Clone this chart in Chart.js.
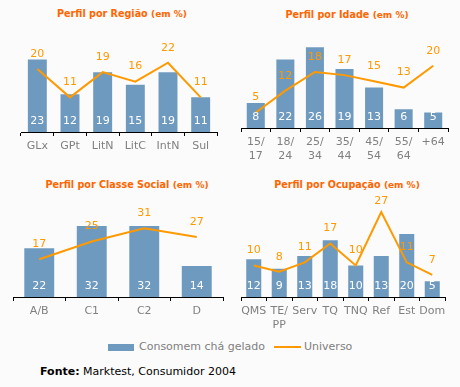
<!DOCTYPE html>
<html>
<head>
<meta charset="utf-8">
<script src="https://cdn.jsdelivr.net/npm/chart.js@4.4.0/dist/chart.umd.min.js"></script>
<style>
  html, body { margin: 0; padding: 0; background: #fbfbfb; }
  #wrap { position: relative; width: 460px; height: 387px; overflow: hidden; font-family: "DejaVu Sans", Verdana, sans-serif; }
  canvas { position: absolute; }
  .title { position: absolute; width: 230px; text-align: center; color: #ff6600; font-weight: bold; font-size: 9.6px; line-height: 12px; white-space: nowrap; }
  .title small { font-size: 9px; }
  #legend { position: absolute; left: 0; top: 340px; width: 460px; height: 14px; font-size: 11px; color: #808080; line-height: 14px; }
  #legend .sw { position: absolute; }
  #legend span.t { position: absolute; white-space: nowrap; }
  #fonte { position: absolute; left: 40px; top: 365px; font-size: 11px; line-height: 14px; color: #000; white-space: nowrap; }
</style>
</head>
<body>
<div id="wrap">
  <div class="title" style="left:7px;top:8px;">Perfil por Região <small>(em %)</small></div>
  <div class="title" style="left:232px;top:9px;">Perfil por Idade <small>(em %)</small></div>
  <div class="title" style="left:12px;top:179px;">Perfil por Classe Social <small>(em %)</small></div>
  <div class="title" style="left:232px;top:179px;">Perfil por Ocupação <small>(em %)</small></div>

  <canvas id="c1" width="230" height="170" style="left:0;top:0;"></canvas>
  <canvas id="c2" width="230" height="170" style="left:230px;top:0;"></canvas>
  <canvas id="c3" width="230" height="160" style="left:0;top:170px;"></canvas>
  <canvas id="c4" width="230" height="160" style="left:230px;top:170px;"></canvas>

  <div id="legend">
    <div class="sw" style="left:108px;top:4px;width:26px;height:7px;background:#6f9abf;"></div>
    <span class="t" style="left:139px;top:0;">Consomem chá gelado</span>
    <div class="sw" style="left:274px;top:6px;width:27px;height:2px;background:#ff9900;"></div>
    <span class="t" style="left:304px;top:0;">Universo</span>
  </div>
  <div id="fonte"><b>Fonte:</b> Marktest, Consumidor 2004</div>
</div>

<script>
// ---- Data ----
const regiaoLabels = ["GLx", "GPt", "LitN", "LitC", "IntN", "Sul"];
const regiaoConsomem = [23, 12, 19, 15, 19, 11];
const regiaoUniverso = [20, 11, 19, 16, 22, 11];

const idadeLabels = [["15/", "17"], ["18/", "24"], ["25/", "34"], ["35/", "44"], ["45/", "54"], ["55/", "64"], "+64"];
const idadeConsomem = [8, 22, 26, 19, 13, 6, 5];
const idadeUniverso = [5, 12, 18, 17, 15, 13, 20];

const classeLabels = ["A/B", "C1", "C2", "D"];
const classeConsomem = [22, 32, 32, 14];
const classeUniverso = [17, 25, 31, 27];

const ocupLabels = ["QMS", ["TE/", "PP"], "Serv", "TQ", "TNQ", "Ref", "Est", "Dom"];
const ocupConsomem = [12, 9, 13, 18, 10, 13, 20, 5];
const ocupUniverso = [10, 8, 11, 17, 10, 27, 11, 7];

const legendNames = ["Consomem chá gelado", "Universo"];

// ---- Styling ----
const BAR = "#6f9abf";
const LINE = "#ff9900";
const FONT = "DejaVu Sans";

const labelPlugin = {
  id: "valueLabels",
  afterDatasetsDraw(chart) {
    const ctx = chart.ctx;
    const y0 = chart.scales.y.getPixelForValue(0);
    ctx.save();
    ctx.font = "11px '" + FONT + "'";
    ctx.textAlign = "center";
    ctx.textBaseline = "middle";
    const barMeta = chart.getDatasetMeta(0);
    const barData = chart.data.datasets[0].data;
    ctx.fillStyle = "#ffffff";
    barMeta.data.forEach((el, i) => ctx.fillText(String(barData[i]), el.x, y0 - 11));
    const lineMeta = chart.getDatasetMeta(1);
    const lineData = chart.data.datasets[1].data;
    ctx.fillStyle = LINE;
    lineMeta.data.forEach((el, i) => {
      const y = Math.max(el.y - 15, chart.chartArea.top - 1);
      ctx.fillText(String(lineData[i]), el.x, y);
    });
    ctx.restore();
  }
};

function makeChart(id, labels, bars, line, cfg) {
  return new Chart(document.getElementById(id), {
    type: "bar",
    data: {
      labels: labels,
      datasets: [
        { type: "bar", label: legendNames[0], data: bars, backgroundColor: BAR, borderWidth: 0,
          barPercentage: cfg.barPct, categoryPercentage: 1.0, order: 2 },
        { type: "line", label: legendNames[1], data: line, borderColor: LINE, borderWidth: 2,
          pointRadius: 0, tension: 0, fill: false, order: 1 }
      ]
    },
    options: {
      responsive: false,
      animation: false,
      devicePixelRatio: 1,
      layout: { padding: { left: cfg.left, right: cfg.right, top: cfg.top, bottom: 0 } },
      plugins: { legend: { display: false }, title: { display: false }, tooltip: { enabled: false } },
      scales: {
        y: { display: false, min: 0, max: cfg.ymax },
        x: {
          type: "category",
          offset: true,
          grid: { offset: true, drawOnChartArea: false, drawTicks: true, tickLength: 4, color: "#000", lineWidth: 1 },
          border: { display: true, color: "#000", width: 1 },
          ticks: { color: "#808080", font: { family: FONT, size: 11, lineHeight: 1.27 }, padding: 3,
                   maxRotation: 0, minRotation: 0, autoSkip: false },
          afterFit(scale) { scale.height = cfg.axisH; }
        }
      }
    },
    plugins: [labelPlugin]
  });
}

makeChart("c1", regiaoLabels, regiaoConsomem, regiaoUniverso,
  { left: 21, right: 13, top: 37.5, ymax: 30, axisH: 38, barPct: 0.58 });
makeChart("c2", idadeLabels, idadeConsomem, idadeUniverso,
  { left: 11, right: 12, top: 34.7, ymax: 30, axisH: 42, barPct: 0.61 });
makeChart("c3", classeLabels, classeConsomem, classeUniverso,
  { left: 13, right: 7, top: 38.2, ymax: 40, axisH: 33, barPct: 0.57 });
makeChart("c4", ocupLabels, ocupConsomem, ocupUniverso,
  { left: 11, right: 15, top: 32.5, ymax: 30, axisH: 33, barPct: 0.59 });
</script>
</body>
</html>
